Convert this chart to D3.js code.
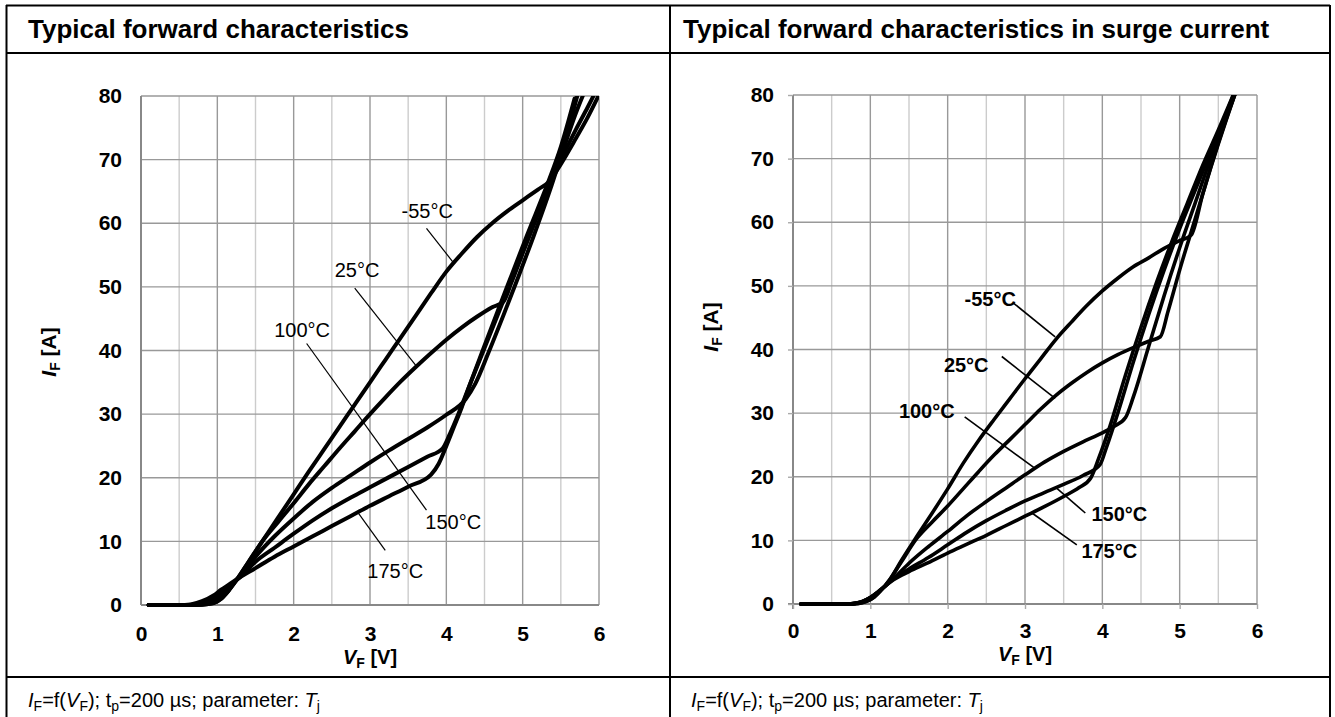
<!DOCTYPE html>
<html>
<head>
<meta charset="utf-8">
<script src="https://cdn.jsdelivr.net/npm/d3@7"></script>
<style>
  body { margin: 0; background: #fff; }
  text { font-family: Arial, "Liberation Sans", Helvetica, sans-serif; fill: #000; }
</style>
</head>
<body>
<div id="chart"></div>
<script>
// ---- data: [V_F (V), I_F (A)] ----
var xTicks = [0, 1, 2, 3, 4, 5, 6];
var yTicks = [0, 10, 20, 30, 40, 50, 60, 70, 80];
var temps = ["-55°C", "25°C", "100°C", "150°C", "175°C"];

// typical forward characteristics
var fwd_m55 = [[0.1,0],[0.6,0],[0.8,0.05],[0.95,0.3],[1.05,1.0],[1.15,2.3],[1.25,3.9],[1.4,6.6],[1.6,10.2],[1.8,13.8],[2.0,17.4],[2.2,21.0],[2.4,24.5],[2.6,28.0],[2.8,31.5],[3.0,35.0],[3.2,38.5],[3.4,42.0],[3.6,45.5],[3.8,49.0],[4.0,52.4],[4.2,55.2],[4.4,57.8],[4.6,60.0],[4.8,61.9],[5.0,63.6],[5.2,65.3],[5.35,66.6],[5.5,69.3],[5.7,73.4],[5.85,76.6],[6.0,80.2]];
var fwd_25  = [[0.1,0],[0.6,0],[0.8,0.05],[0.95,0.3],[1.05,1.0],[1.15,2.3],[1.25,3.9],[1.4,6.6],[1.6,10.2],[1.8,13.1],[2.0,16.0],[2.2,19.0],[2.4,21.8],[2.6,24.6],[2.8,27.3],[3.0,30.0],[3.2,32.6],[3.4,35.1],[3.6,37.4],[3.8,39.6],[4.0,41.7],[4.2,43.6],[4.4,45.3],[4.6,46.8],[4.75,47.7],[4.85,50.6],[5.0,55.3],[5.2,61.6],[5.35,66.3],[5.5,70.0],[5.7,74.8],[5.85,78.2],[5.97,81.0]];
var fwd_100 = [[0.1,0],[0.6,0],[0.75,0.1],[0.9,0.5],[1.0,1.2],[1.1,2.2],[1.2,3.3],[1.3,4.6],[1.5,7.6],[1.75,10.8],[2.0,13.6],[2.25,16.2],[2.5,18.4],[2.75,20.4],[3.0,22.4],[3.25,24.3],[3.5,26.1],[3.75,27.9],[4.0,29.9],[4.25,32.3],[4.38,34.8],[4.55,39.6],[4.75,45.6],[4.95,51.8],[5.15,58.2],[5.38,66.0],[5.5,70.4],[5.7,77.4],[5.8,80.4]];
var fwd_150 = [[0.1,0],[0.55,0],[0.7,0.1],[0.85,0.6],[1.0,1.6],[1.1,2.5],[1.2,3.4],[1.3,4.4],[1.5,6.8],[1.75,9.0],[2.0,11.2],[2.25,13.3],[2.5,15.2],[2.75,16.9],[3.0,18.5],[3.25,20.1],[3.5,21.7],[3.75,23.3],[3.95,24.6],[4.05,27.0],[4.15,29.8],[4.3,34.4],[4.5,40.4],[4.7,46.4],[4.9,52.4],[5.1,58.4],[5.35,66.0],[5.5,71.0],[5.72,80.2]];
var fwd_175 = [[0.1,0],[0.5,0],[0.65,0.1],[0.8,0.6],[0.95,1.5],[1.05,2.4],[1.15,3.2],[1.25,4.0],[1.5,5.8],[1.75,7.6],[2.0,9.2],[2.25,10.8],[2.5,12.4],[2.75,14.0],[3.0,15.6],[3.25,17.1],[3.5,18.6],[3.8,20.5],[3.9,22.2],[4.0,25.0],[4.1,28.0],[4.2,31.0],[4.32,35.0],[4.47,39.8],[4.66,45.8],[4.86,52.0],[5.06,58.2],[5.32,66.0],[5.5,72.0],[5.68,79.6]];

// typical forward characteristics in surge current
var surge_m55 = [[0.1,0],[0.7,0],[0.85,0.1],[0.95,0.4],[1.05,1.1],[1.15,2.3],[1.25,3.8],[1.4,6.8],[1.6,10.6],[1.8,14.3],[2.0,18.1],[2.2,22.1],[2.4,25.7],[2.6,29.0],[2.8,32.2],[3.0,35.4],[3.2,38.5],[3.4,41.6],[3.6,44.3],[3.8,46.9],[4.0,49.2],[4.2,51.2],[4.4,53.0],[4.6,54.4],[4.8,55.9],[5.0,57.1],[5.15,58.0],[5.3,64.5],[5.5,72.5],[5.72,80.3]];
var surge_25  = [[0.1,0],[0.7,0],[0.85,0.1],[0.95,0.4],[1.05,1.1],[1.15,2.3],[1.25,3.8],[1.4,6.6],[1.6,10.3],[1.8,12.9],[2.0,15.4],[2.2,18.1],[2.4,20.8],[2.6,23.4],[2.8,25.8],[3.0,28.2],[3.2,30.6],[3.4,32.8],[3.6,34.7],[3.8,36.4],[4.0,37.9],[4.2,39.2],[4.4,40.3],[4.6,41.3],[4.75,42.0],[4.85,46.0],[5.0,52.5],[5.2,60.5],[5.4,68.5],[5.6,76.0],[5.72,80.3]];
var surge_100 = [[0.1,0],[0.7,0],[0.8,0.1],[0.9,0.4],[1.0,1.0],[1.1,1.9],[1.2,2.9],[1.3,4.0],[1.5,6.4],[1.75,9.0],[2.0,11.4],[2.25,13.9],[2.5,16.1],[2.75,18.2],[3.0,20.3],[3.25,22.3],[3.5,24.0],[3.75,25.5],[4.0,26.9],[4.15,27.9],[4.3,29.3],[4.4,32.5],[4.6,40.5],[4.8,48.5],[5.0,56.0],[5.2,63.0],[5.4,70.0],[5.6,76.5],[5.72,80.3]];
var surge_150 = [[0.1,0],[0.7,0],[0.8,0.1],[0.9,0.4],[1.0,1.0],[1.1,1.9],[1.2,2.9],[1.3,3.9],[1.5,5.5],[1.75,7.3],[2.0,9.3],[2.25,11.3],[2.5,13.1],[2.75,14.7],[3.0,16.2],[3.25,17.5],[3.5,18.8],[3.75,20.2],[3.97,21.9],[4.05,24.5],[4.2,30.0],[4.4,38.0],[4.6,45.5],[4.8,52.5],[5.0,59.0],[5.2,65.0],[5.4,71.0],[5.6,77.0],[5.7,80.2]];
var surge_175 = [[0.1,0],[0.7,0],[0.8,0.1],[0.9,0.4],[1.0,1.0],[1.1,1.9],[1.2,2.9],[1.3,3.8],[1.5,5.1],[1.75,6.5],[2.0,8.0],[2.25,9.4],[2.5,10.8],[2.75,12.3],[3.0,13.8],[3.25,15.3],[3.5,16.9],[3.7,18.3],[3.85,19.8],[3.95,22.8],[4.1,28.0],[4.3,36.0],[4.5,43.5],[4.7,50.5],[4.9,57.0],[5.1,63.0],[5.3,69.0],[5.5,74.5],[5.7,80.2]];

// curve labels: label centre and leader line (from, to) in data units
var fwdLabels = [
  { text: temps[0], at: [3.75, 61.9], from: [3.74, 59.2], to: [4.10, 53.7] },
  { text: temps[1], at: [2.83, 52.7], from: [2.80, 49.8], to: [3.61, 37.5] },
  { text: temps[2], at: [2.11, 43.2], from: [2.17, 41.1], to: [3.22, 23.6] },
  { text: temps[3], at: [4.09, 13.0], from: [3.74, 14.9], to: [3.22, 23.6] },
  { text: temps[4], at: [3.33, 5.3],  from: [3.20, 8.6],  to: [2.85, 14.4] }
];
var surgeLabels = [
  { text: temps[0], at: [2.55, 48.0], from: [2.85, 47.3], to: [3.39, 42.0] },
  { text: temps[1], at: [2.24, 37.6], from: [2.70, 38.9], to: [3.39, 32.3] },
  { text: temps[2], at: [1.73, 30.3], from: [2.22, 29.4], to: [3.13, 21.3] },
  { text: temps[3], at: [4.22, 14.2], from: [3.78, 14.3], to: [3.39, 18.4] },
  { text: temps[4], at: [4.09, 8.3],  from: [3.67, 9.3],  to: [3.09, 14.3] }
];

var width = 1335, height = 717;

var svg = d3.select("#chart")
  .append("svg")
    .attr("width", width)
    .attr("height", height);

// ---- table frame ----
var frame = svg.append("g").attr("stroke", "#000").attr("stroke-width", 2);
frame.append("line").attr("x1", 6).attr("x2", 1330).attr("y1", 5.5).attr("y2", 5.5);
frame.append("line").attr("x1", 6).attr("x2", 1330).attr("y1", 53).attr("y2", 53);
frame.append("line").attr("x1", 6).attr("x2", 1330).attr("y1", 677).attr("y2", 677);
frame.append("line").attr("x1", 6.5).attr("x2", 6.5).attr("y1", 5).attr("y2", height);
frame.append("line").attr("x1", 670).attr("x2", 670).attr("y1", 5).attr("y2", height);
frame.append("line").attr("x1", 1330).attr("x2", 1330).attr("y1", 5).attr("y2", height);

svg.append("text").attr("x", 28).attr("y", 38)
  .style("font-size", "26px").style("font-weight", "bold")
  .text("Typical forward characteristics");
svg.append("text").attr("x", 683).attr("y", 38)
  .style("font-size", "26px").style("font-weight", "bold")
  .text("Typical forward characteristics in surge current");

// footer "IF=f(VF); tp=200 µs; parameter: Tj"
function footer(x) {
  var t = svg.append("text").attr("x", x).attr("y", 707).style("font-size", "20px");
  var parts = [["I", "i"], ["F", "s"], ["=f(", ""], ["V", "i"], ["F", "s"], ["); t", ""], ["p", "s"],
               ["=200 µs; parameter: ", ""], ["T", "i"], ["j", "s"]];
  var low = false;
  parts.forEach(function(p) {
    var s = t.append("tspan").text(p[0]);
    if (p[1] == "i") s.style("font-style", "italic");
    if (p[1] == "s") { s.style("font-size", "14px").attr("dy", low ? 0 : 4); low = true; }
    else if (low) { s.attr("dy", -4); low = false; }
  });
}
footer(28);
footer(691);

var line = d3.line().curve(d3.curveMonotoneX);

function drawPanel(o) {
  var x = d3.scaleLinear().domain([0, 6]).range([o.left, o.right]);
  var y = d3.scaleLinear().domain([0, 80]).range([o.bottom, o.top]);
  var g = svg.append("g");

  // grid
  g.selectAll(".vg").data(d3.range(0, 6.01, 0.5)).enter().append("line")
    .attr("x1", function(d) { return x(d); }).attr("x2", function(d) { return x(d); })
    .attr("y1", o.top).attr("y2", o.bottom)
    .attr("stroke", function(d) { return d % 1 == 0 ? "#999" : "#ccc"; })
    .attr("stroke-width", 1.4);
  g.selectAll(".hg").data(yTicks).enter().append("line")
    .attr("x1", o.left).attr("x2", o.right)
    .attr("y1", function(d) { return y(d); }).attr("y2", function(d) { return y(d); })
    .attr("stroke", "#999").attr("stroke-width", 1.4);
  g.append("line").attr("x1", o.left).attr("x2", o.left).attr("y1", o.top).attr("y2", o.bottom + (o.tick ? 5 : 0))
    .attr("stroke", "#888").attr("stroke-width", 2);
  g.append("line").attr("x1", o.left - (o.tick ? 5 : 0)).attr("x2", o.right).attr("y1", o.bottom).attr("y2", o.bottom)
    .attr("stroke", "#888").attr("stroke-width", 2);

  // axes (labels only, frame drawn above)
  var ax = g.append("g").attr("transform", "translate(0," + o.bottom + ")")
    .call(d3.axisBottom(x).tickValues(xTicks).tickFormat(d3.format("d"))
      .tickSize(o.tick ? 5 : 0).tickPadding(o.tick ? 14 : 21));
  var ay = g.append("g").attr("transform", "translate(" + o.left + ",0)")
    .call(d3.axisLeft(y).tickValues(yTicks).tickSize(o.tick ? 5 : 0).tickPadding(o.tick ? 14 : 19));
  [ax, ay].forEach(function(a) {
    a.select(".domain").remove();
    a.selectAll("line").attr("stroke", "#aaa").attr("stroke-width", 1.4);
    a.selectAll("text").style("font-size", "21px").style("font-weight", "bold")
      .style("font-family", "Arial, 'Liberation Sans', sans-serif").attr("fill", "#000");
  });

  // axis titles
  var xt = g.append("text").attr("x", (o.left + o.right) / 2).attr("y", o.xTitleY)
    .attr("text-anchor", "middle").style("font-size", "20px").style("font-weight", "bold");
  xt.append("tspan").style("font-style", "italic").text("V");
  xt.append("tspan").style("font-size", "14px").attr("dy", 4).text("F");
  xt.append("tspan").attr("dy", -4).text(" [V]");
  var yt = g.append("text").attr("transform", "translate(" + o.yTitleX + "," + o.yTitleY + ") rotate(-90)")
    .attr("text-anchor", "middle").style("font-size", "21px").style("font-weight", "bold");
  yt.append("tspan").style("font-style", "italic").text("I");
  yt.append("tspan").style("font-size", "14px").attr("dy", 4).text("F");
  yt.append("tspan").attr("dy", -4).text(" [A]");

  // curves
  var clipId = "clip" + o.id;
  svg.append("clipPath").attr("id", clipId).append("rect")
    .attr("x", o.left - 4).attr("y", o.top).attr("width", o.right - o.left + 4).attr("height", o.bottom - o.top + 4);
  g.append("g").attr("clip-path", "url(#" + clipId + ")")
    .selectAll("path").data(o.series).enter().append("path")
    .attr("d", function(s) { return line(s.map(function(p) { return [x(p[0]), y(p[1])]; })); })
    .attr("fill", "none").attr("stroke", "#000").attr("stroke-width", o.lw)
    .attr("stroke-linejoin", "round").attr("stroke-linecap", "round");

  // leaders + labels
  g.selectAll(".lead").data(o.labels).enter().append("line")
    .attr("x1", function(d) { return x(d.from[0]); }).attr("y1", function(d) { return y(d.from[1]); })
    .attr("x2", function(d) { return x(d.to[0]); }).attr("y2", function(d) { return y(d.to[1]); })
    .attr("stroke", "#000").attr("stroke-width", o.bold ? 1.6 : 1.2);
  g.selectAll(".lab").data(o.labels).enter().append("text")
    .attr("x", function(d) { return x(d.at[0]); }).attr("y", function(d) { return y(d.at[1]); })
    .attr("dy", "0.36em").attr("text-anchor", "middle")
    .style("font-size", "20px").style("font-weight", o.bold ? "bold" : "normal")
    .text(function(d) { return d.text; });
}

drawPanel({
  id: "L", left: 141, right: 599, top: 96, bottom: 605, tick: false, lw: 4, bold: false,
  xTitleY: 664, yTitleX: 56, yTitleY: 352,
  series: [fwd_m55, fwd_25, fwd_100, fwd_150, fwd_175], labels: fwdLabels
});
drawPanel({
  id: "R", left: 793, right: 1257, top: 95, bottom: 604, tick: true, lw: 3.6, bold: true,
  xTitleY: 661, yTitleX: 718, yTitleY: 327,
  series: [surge_m55, surge_25, surge_100, surge_150, surge_175], labels: surgeLabels
});
</script>
</body>
</html>
